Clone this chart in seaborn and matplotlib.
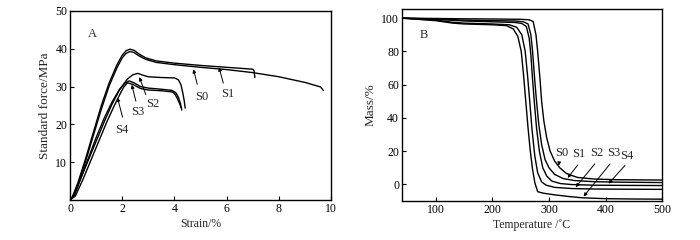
import pandas as pd
import matplotlib
matplotlib.use("Agg")
import matplotlib.pyplot as plt
import seaborn as sns

# ---- panel A: tensile curves (strain %, standard force MPa) ----
S0_STRAIN = [0, 0.1, 0.3, 0.6, 0.9, 1.2, 1.5, 1.8, 2.0, 2.15, 2.3, 2.45, 2.65, 2.9, 3.3, 4, 5, 6, 7, 7.05, 7.08]
S0_FORCE = [0, 1, 4.5, 11, 18, 25, 31, 35.8, 38.3, 39.5, 39.9, 39.6, 38.6, 37.6, 36.8, 36.2, 35.6, 35.1, 34.6, 34.2, 32.4]
S1_STRAIN = [0, 0.1, 0.3, 0.6, 0.9, 1.2, 1.5, 1.8, 2.0, 2.15, 2.3, 2.45, 2.65, 2.9, 3.3, 4, 5, 6, 7, 8, 9, 9.6, 9.7]
S1_FORCE = [0, 0.8, 4, 10.3, 17.2, 24, 30.2, 35, 37.6, 38.8, 39.3, 39.0, 38.1, 37.2, 36.4, 35.8, 35.1, 34.5, 33.7, 32.6, 31.1, 29.9, 29.0]
S2_STRAIN = [0, 0.15, 0.4, 0.7, 1.0, 1.3, 1.6, 1.9, 2.2, 2.4, 2.6, 2.8, 3.0, 3.5, 4.0, 4.15, 4.25, 4.33, 4.38, 4.41]
S2_FORCE = [0, 1, 5.5, 10.5, 15.5, 20.5, 25.2, 29.2, 32, 33.1, 33.5, 33.0, 32.6, 32.4, 32.3, 31.8, 30.5, 28, 26, 24.3]
S3_STRAIN = [0, 0.15, 0.4, 0.7, 1.0, 1.3, 1.6, 1.9, 2.1, 2.27, 2.45, 2.7, 3.0, 3.5, 3.9, 4.05, 4.15, 4.23, 4.28]
S3_FORCE = [0, 1, 5.5, 11, 16.5, 21.5, 25.8, 29.3, 30.9, 31.5, 31.0, 30.0, 29.6, 29.3, 29.0, 28.4, 27.2, 25.5, 23.8]
S4_STRAIN = [0, 0.2, 0.5, 0.8, 1.1, 1.4, 1.7, 1.9, 2.05, 2.2, 2.4, 2.7, 3.0, 3.5, 3.9, 4.0, 4.1, 4.2, 4.25]
S4_FORCE = [0, 1, 5.5, 10.5, 15.5, 20.5, 25, 27.8, 29.8, 31.0, 30.6, 29.5, 29.1, 28.9, 28.6, 28.2, 27, 25.5, 24.5]

# ---- panel B: TGA curves (temperature C, mass %) ----
S0_TEMP = [40, 100, 150, 200, 250, 265, 272, 277, 280, 284, 287, 291, 296, 302, 310, 319, 331, 350, 380, 420, 500]
S0_MASS = [100, 99.8, 99.6, 99.5, 99.3, 99, 98, 90, 80, 64, 50, 38, 28, 20, 14, 10, 6.5, 4.2, 3.2, 2.8, 2.6]
S1_TEMP = [40, 100, 150, 200, 240, 255, 263, 268, 271, 275, 278, 282, 287, 293, 300, 310, 325, 345, 380, 430, 500]
S1_MASS = [100, 99.5, 98.8, 98.5, 98.3, 97.8, 96.5, 90, 80, 62, 50, 36, 24, 15, 10, 6, 3.5, 2.3, 1.6, 1.3, 1.1]
S2_TEMP = [40, 100, 130, 150, 200, 230, 243, 252, 258, 262, 266, 270, 275, 280, 287, 295, 310, 340, 380, 430, 500]
S2_MASS = [100, 98.8, 97.5, 97, 96.5, 96, 94.5, 90, 80, 66, 50, 33, 17, 7, 1.5, -0.5, -1.8, -2.5, -2.8, -2.9, -3.0]
S3_TEMP = [40, 100, 130, 150, 200, 225, 237, 245, 251, 255, 259, 263, 267, 271, 275, 280, 290, 310, 335, 360, 400, 450, 500]
S3_MASS = [100, 98.5, 97, 96.5, 96, 95.5, 93.5, 89, 80, 66, 50, 34, 20, 9, 1, -4.4, -5.3, -6.3, -7.3, -8.1, -8.6, -8.8, -8.9]
S4_TEMP = [40, 100, 150, 200, 240, 252, 260, 265, 268, 271, 274, 278, 283, 289, 296, 305, 320, 340, 380, 430, 500]
S4_MASS = [100, 99.3, 98.3, 97.8, 97.4, 96.8, 95, 88, 78, 63, 50, 34, 20, 10, 5, 2, 0.5, -0.1, -0.5, -0.6, -0.7]

SAMPLES = ["S0", "S1", "S2", "S3", "S4"]


def long_frame(xs, ys, xname, yname):
    frames = []
    for name, x, y in zip(SAMPLES, xs, ys):
        frames.append(pd.DataFrame({xname: x, yname: y, "sample": name}))
    return pd.concat(frames, ignore_index=True)


tensile = long_frame([S0_STRAIN, S1_STRAIN, S2_STRAIN, S3_STRAIN, S4_STRAIN],
                     [S0_FORCE, S1_FORCE, S2_FORCE, S3_FORCE, S4_FORCE], "strain", "force")
tga = long_frame([S0_TEMP, S1_TEMP, S2_TEMP, S3_TEMP, S4_TEMP],
                 [S0_MASS, S1_MASS, S2_MASS, S3_MASS, S4_MASS], "temp", "mass")

sns.set_style("ticks")
plt.rcParams["font.family"] = ["Liberation Serif", "DejaVu Serif"]
plt.rcParams["font.size"] = 8.5
plt.rcParams["xtick.direction"] = "in"
plt.rcParams["ytick.direction"] = "in"

fig = plt.figure(figsize=(7, 2.4), dpi=100)
ax_a = fig.add_axes([0.100, 0.1667, 0.373, 0.7875])
ax_b = fig.add_axes([0.574, 0.1625, 0.372, 0.800])

black5 = ["black"] * 5
sns.lineplot(data=tensile, x="strain", y="force", hue="sample", palette=black5,
             sort=False, estimator=None, legend=False, linewidth=1.0, ax=ax_a)
sns.lineplot(data=tga, x="temp", y="mass", hue="sample", palette=black5,
             sort=False, estimator=None, legend=False, linewidth=1.0, ax=ax_b)

arrow = dict(arrowstyle="-|>", color="black", lw=0.7, mutation_scale=5)

# panel A
ax_a.set_xlim(0, 10)
ax_a.set_ylim(0, 50)
ax_a.set_xticks([0, 2, 4, 6, 8, 10])
ax_a.set_yticks([10, 20, 30, 40, 50])
ax_a.set_xlabel("Strain/%", labelpad=2, fontsize=8.5)
ax_a.set_ylabel("Standard force/MPa", labelpad=3, fontsize=9.5)
ax_a.text(0.7, 43, "A", fontsize=9)
a_notes = [("S0", (5.05, 27.3), (4.9, 29.9), (4.7, 35.3)),
           ("S1", (6.03, 28.0), (5.9, 30.2), (5.68, 35.8)),
           ("S2", (3.17, 25.4), (2.94, 27.2), (2.62, 33.2)),
           ("S3", (2.6, 23.3), (2.55, 25.4), (2.34, 31.2)),
           ("S4", (2.0, 18.5), (2.04, 21.2), (1.79, 27.8))]
for label, txt, start, tip in a_notes:
    ax_a.text(*txt, label, ha="center", va="center", fontsize=9)
    ax_a.annotate("", xy=tip, xytext=start, arrowprops=arrow)

# panel B
ax_b.set_xlim(40, 500)
ax_b.set_ylim(-10, 105.5)
ax_b.set_xticks([100, 200, 300, 400, 500])
ax_b.set_yticks([0, 20, 40, 60, 80, 100])
ax_b.set_xlabel("Temperature /\u02daC", labelpad=2, fontsize=8.5)
ax_b.set_ylabel("Mass/%", labelpad=3, fontsize=9.5)
ax_b.text(79, 90, "B", ha="center", va="center", fontsize=9)
b_notes = [("S0", (322, 19), (318, 13.6), (316.5, 9.6)),
           ("S1", (352, 18.3), (354, 13.0), (330, 2.6)),
           ("S2", (384, 18.7), (384, 13.6), (344, -3.0)),
           ("S3", (415, 18.7), (411, 13.6), (358, -8.6)),
           ("S4", (437.5, 17.2), (437.5, 12.6), (402, -0.8))]
for label, txt, start, tip in b_notes:
    ax_b.text(*txt, label, ha="center", va="center", fontsize=9)
    ax_b.annotate("", xy=tip, xytext=start, arrowprops=arrow)

for ax in (ax_a, ax_b):
    for side in ax.spines.values():
        side.set_visible(True)
        side.set_linewidth(1.0)
        side.set_color("black")
    ax.tick_params(length=3, width=0.8, pad=2, colors="black", labelsize=8.5)

fig.savefig("out.png", dpi=100, facecolor="white")
